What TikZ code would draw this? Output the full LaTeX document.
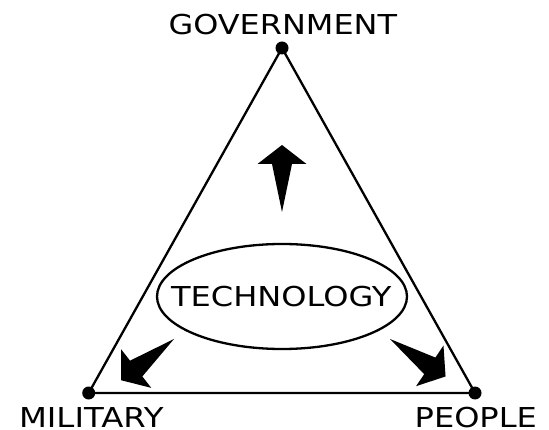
\documentclass[tikz,border=0pt]{standalone}
\usepackage{fontspec}
\setmainfont{DejaVu Sans}
\usetikzlibrary{shapes.geometric}
\begin{document}
\begin{tikzpicture}[x=1pt,y=-1pt,
  edge/.style={line width=2.3pt,line join=miter},
  vdot/.style={circle,fill=black,inner sep=0pt,minimum size=13pt},
  lbl/.style={inner sep=0pt,anchor=base,font=\fontsize{27.4}{30}\selectfont},
  bigarrow/.style={fill=black}]
\useasboundingbox (0,0) rectangle (549,430);
\coordinate (G) at (282,48);
\coordinate (M) at (88.7,393);
\coordinate (P) at (475,393);
\draw[edge] (G) -- (M) -- (P) -- cycle;
\node[vdot] (gd) at (G) {};
\node[vdot] (md) at (M) {};
\node[vdot] (pd) at (P) {};
\node[lbl] (gl) at (282.8,35) {\scalebox{1.165}[1]{GOVERNMENT}};
\node[lbl] (ml) at (91.3,427) {\scalebox{1.18}[1]{MILITARY}};
\node[lbl] (pl) at (475.8,427) {\scalebox{1.17}[1]{PEOPLE}};
\node[draw,ellipse,line width=2.3pt,minimum width=250pt,minimum height=105pt,inner sep=0pt] (tech) at (282,296.5) {};
\node[lbl] (tl) at (281.3,306.7) {\scalebox{1.17}[1]{TECHNOLOGY}};
\fill[bigarrow,shift={(282,212)}] (0,0) -- (10,-48) -- (24.5,-48) -- (0,-67) -- (-24.5,-48) -- (-10,-48) -- cycle;
\fill[bigarrow,shift={(174,339)},rotate=128] (0,0) -- (10,-48) -- (24.5,-48) -- (0,-67) -- (-24.5,-48) -- (-10,-48) -- cycle;
\fill[bigarrow,shift={(390,339)},rotate=-124] (0,0) -- (10,-48) -- (24.5,-48) -- (0,-67) -- (-24.5,-48) -- (-10,-48) -- cycle;
\end{tikzpicture}
\end{document}
